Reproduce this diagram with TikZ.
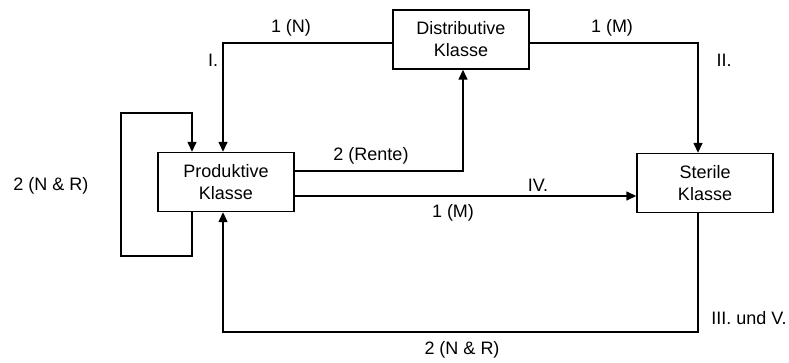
\documentclass[tikz,border=0pt]{standalone}
\usepackage{fontspec}
\setmainfont{Liberation Sans}
\usetikzlibrary{arrows.meta}
\begin{document}
\begin{tikzpicture}[x=1pt,y=-1pt,
  box/.style={draw,line width=1.4pt,minimum width=136pt,minimum height=59pt,align=center,font=\fontsize{18}{22}\selectfont,inner sep=0pt},
  flow/.style={line width=1.4pt,-{Triangle[length=10pt,width=9pt]}},
  lbl/.style={font=\fontsize{18}{22}\selectfont,inner sep=0pt}]
\useasboundingbox (0,0) rectangle (789,362);
\node[box] (D) at (461,39.5) {Distributive\\Klasse};
\node[box] (P) at (226,182) {Produktive\\Klasse};
\node[box] (S) at (705,183) {Sterile\\Klasse};
\coordinate (c1) at (223,43);
\coordinate (c2) at (698,43);
\coordinate (c3) at (463,171);
\coordinate (c4) at (400,196);
\coordinate (c5) at (698,332);
\coordinate (c6) at (223,332);
\coordinate (l1) at (192,256);
\coordinate (l2) at (121,256);
\coordinate (l3) at (121,113);
\coordinate (l4) at (192,113);
\draw[flow] (D.west |- c1) -- (c1) -- (P.north -| c1);
\draw[flow] (D.east |- c2) -- (c2) -- (S.north -| c2);
\draw[flow] (P.east |- c3) -- (c3) -- (D.south -| c3);
\draw[flow] (P.east |- c4) -- (S.west |- c4);
\draw[flow] (S.south -| c5) -- (c5) -- (c6) -- (P.south -| c6);
\draw[flow] (P.south -| l1) -- (l1) -- (l2) -- (l3) -- (l4) -- (P.north -| l4);
\node[lbl] (t1) at (291,28) {1 (N)};
\node[lbl] (t2) at (213,60) {I.};
\node[lbl] (t3) at (612,28) {1 (M)};
\node[lbl] (t4) at (724,60) {II.};
\node[lbl] (t5) at (51,186) {2 (N \& R)};
\node[lbl] (t6) at (371,156) {2 (Rente)};
\node[lbl] (t7) at (538,185) {IV.};
\node[lbl] (t8) at (453,213) {1 (M)};
\node[lbl] (t9) at (749,318) {III. und V.};
\node[lbl] (t10) at (462,350) {2 (N \& R)};
\end{tikzpicture}
\end{document}
